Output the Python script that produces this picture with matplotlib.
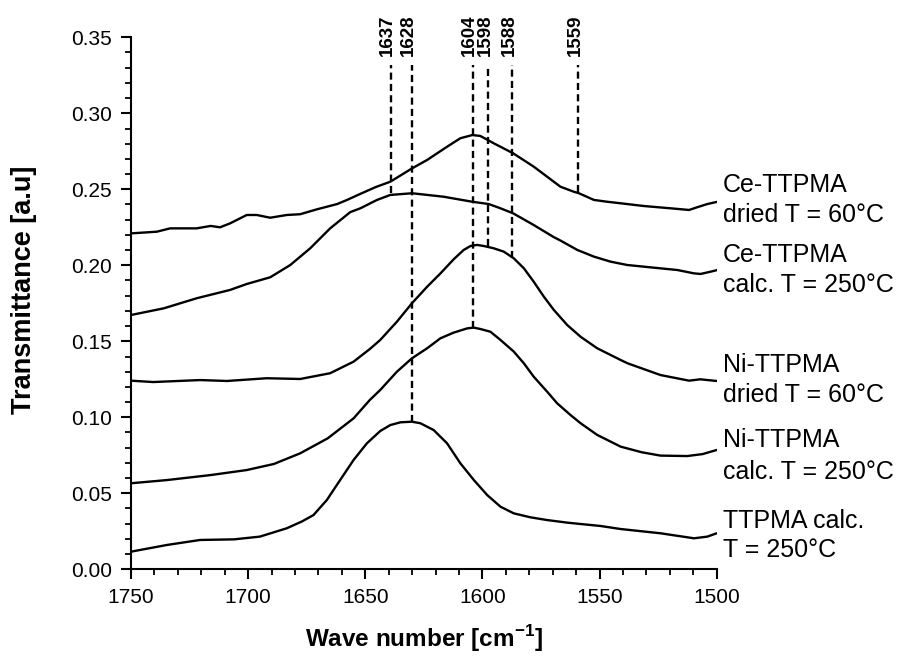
import matplotlib
matplotlib.use("Agg")
import matplotlib.pyplot as plt
from matplotlib.ticker import MultipleLocator, FormatStrFormatter

plt.rcParams['font.family'] = ['Liberation Sans', 'DejaVu Sans']

# ---- data ----
ce_dried_wn = [1750, 1739, 1733.3, 1722, 1716, 1712, 1707.7, 1700.6, 1696.3, 1690.6, 1683.5, 1677.8,
               1670.7, 1662, 1657.8, 1652.1, 1645.5, 1639.3, 1630.0, 1623.6, 1615.1, 1609.4, 1604.3,
               1600.9, 1595.2, 1586.9, 1578.1, 1572.4, 1566.7, 1561.0, 1558.8, 1552.4, 1546.7, 1541.0,
               1531.1, 1519.7, 1511.8, 1508.3, 1504.0, 1499.7]
ce_dried_val = [0.2210, 0.2221, 0.2243, 0.2243, 0.2259, 0.2250, 0.2276, 0.2331, 0.2331, 0.2313, 0.2331, 0.2336,
                0.2368, 0.2403, 0.2430, 0.2470, 0.2515, 0.2550, 0.2638, 0.2693, 0.2780, 0.2836, 0.2857,
                0.2851, 0.2803, 0.2737, 0.2649, 0.2583, 0.2517, 0.2484, 0.2474, 0.2430, 0.2418, 0.2408,
                0.2390, 0.2375, 0.2364, 0.2382, 0.2403, 0.2418]

ce_calc_wn = [1750, 1736, 1722, 1707.7, 1700.6, 1690.6, 1682, 1673.5, 1665, 1656.4, 1652.1, 1645.0,
              1639.3, 1630.0, 1616.5, 1604.3, 1597.3, 1592.3, 1586.9, 1578.1, 1569.5, 1566.7, 1559.5,
              1552.4, 1545.3, 1538.2, 1531.1, 1524.0, 1516.8, 1509.7, 1506.9, 1502.6, 1499.7]
ce_calc_val = [0.1673, 0.1717, 0.1783, 0.1838, 0.1877, 0.1921, 0.2002, 0.2112, 0.2243, 0.2350, 0.2375, 0.2430,
               0.2463, 0.2474, 0.2451, 0.2418, 0.2403, 0.2375, 0.2342, 0.2265, 0.2185, 0.2163, 0.2101,
               0.2057, 0.2024, 0.2002, 0.1991, 0.1980, 0.1969, 0.1947, 0.1943, 0.1958, 0.1969]

ni_dried_wn = [1750, 1740.5, 1720.5, 1709, 1692, 1677.8, 1665, 1655, 1648, 1643.6, 1636.5, 1630.1,
               1623.6, 1617.9, 1612.3, 1608.0, 1605.1, 1602.3, 1599.4, 1595.2, 1590.9, 1586.6, 1582.3,
               1578.1, 1573.8, 1569.5, 1563.8, 1558.1, 1551.0, 1541.0, 1538.0, 1524.0, 1511.8, 1507.0,
               1500]
ni_dried_val = [0.1241, 0.1232, 0.1245, 0.1239, 0.1257, 0.1252, 0.1290, 0.1366, 0.1450, 0.1509, 0.1629, 0.1750,
                0.1859, 0.1947, 0.2039, 0.2101, 0.2127, 0.2134, 0.2127, 0.2112, 0.2090, 0.2046, 0.1980,
                0.1892, 0.1794, 0.1706, 0.1607, 0.1530, 0.1454, 0.1377, 0.1355, 0.1278, 0.1241, 0.1250,
                0.1239]

ni_calc_wn = [1750, 1734.7, 1716, 1700.6, 1689, 1677.8, 1666, 1655, 1648, 1643.6, 1636.5, 1630.1,
              1623.6, 1617.9, 1612.3, 1606.5, 1603.7, 1600.9, 1596.6, 1592.3, 1586.6, 1582.3, 1578.1,
              1572.4, 1568.1, 1562.4, 1558.1, 1551.0, 1541.0, 1532, 1524.0, 1512.6, 1506, 1500]
ni_calc_val = [0.0566, 0.0587, 0.0620, 0.0653, 0.0693, 0.0763, 0.0862, 0.0993, 0.1115, 0.1180, 0.1300, 0.1388,
               0.1454, 0.1520, 0.1557, 0.1585, 0.1590, 0.1581, 0.1563, 0.1509, 0.1432, 0.1355, 0.1267,
               0.1169, 0.1092, 0.1015, 0.0961, 0.0884, 0.0807, 0.0770, 0.0748, 0.0745, 0.0758, 0.0785]

ttpma_wn = [1750, 1734.7, 1720.5, 1706, 1695, 1683.5, 1677, 1672.1, 1666.4, 1660.7, 1655.0, 1649.3,
            1643.6, 1639.3, 1635.0, 1630.1, 1626.5, 1620.8, 1615.1, 1609.4, 1603.7, 1598.0, 1592.3,
            1586.6, 1579.5, 1572.4, 1563.8, 1558.1, 1549.6, 1541.0, 1524.0, 1509.7, 1504, 1500]
ttpma_val = [0.0116, 0.0160, 0.0193, 0.0197, 0.0215, 0.0270, 0.0315, 0.0357, 0.0456, 0.0588, 0.0719, 0.0829,
             0.0910, 0.0949, 0.0967, 0.0971, 0.0961, 0.0916, 0.0829, 0.0697, 0.0588, 0.0489, 0.0412,
             0.0368, 0.0342, 0.0324, 0.0307, 0.0298, 0.0285, 0.0265, 0.0237, 0.0204, 0.0215, 0.0237]

peak_labels = ["1637", "1628", "1604", "1598", "1588", "1559"]
peak_pos = [1639.2, 1630.2, 1604.2, 1597.5, 1587.3, 1559.0]
peak_bottom = [0.2476, 0.0971, 0.1590, 0.2125, 0.2050, 0.2480]

series_labels = [("Ce-TTPMA", "dried T = 60°C"),
                 ("Ce-TTPMA", "calc. T = 250°C"),
                 ("Ni-TTPMA", "dried T = 60°C"),
                 ("Ni-TTPMA", "calc. T = 250°C"),
                 ("TTPMA calc.", "T = 250°C")]

# ---- figure ----
fig = plt.figure(figsize=(9, 6.56), dpi=100)
ax = fig.add_axes([131 / 900, 1 - 569.3 / 656, (716.7 - 131) / 900, (569.3 - 37.3) / 656])

for wn, val in [(ce_dried_wn, ce_dried_val), (ce_calc_wn, ce_calc_val), (ni_dried_wn, ni_dried_val),
                (ni_calc_wn, ni_calc_val), (ttpma_wn, ttpma_val)]:
    ax.plot(wn, val, color='black', lw=1.7, solid_joinstyle='round', solid_capstyle='round')

top_val = 0.332
for lab, x, yb in zip(peak_labels, peak_pos, peak_bottom):
    ax.plot([x, x], [yb, top_val], color='black', lw=1.7, ls=(0, (3.0, 1.8)))
    ax.text(x + 1.3, 0.3375, lab, rotation=90, ha='center', va='bottom',
            fontsize=13.5, fontweight='bold', clip_on=False)

ax.set_xlim(1750, 1500)
ax.set_ylim(0, 0.35)
ax.xaxis.set_major_locator(MultipleLocator(50))
ax.xaxis.set_minor_locator(MultipleLocator(10))
ax.yaxis.set_major_locator(MultipleLocator(0.05))
ax.yaxis.set_minor_locator(MultipleLocator(0.01))
ax.yaxis.set_major_formatter(FormatStrFormatter('%.2f'))
ax.tick_params(which='major', direction='out', length=7.5, width=1.5, labelsize=15, pad=6, color='black')
ax.tick_params(which='minor', direction='out', length=4.5, width=1.3, color='black')
for s in ['top', 'right']:
    ax.spines[s].set_visible(False)
for s in ['left', 'bottom']:
    ax.spines[s].set_linewidth(1.5)

ax.set_xlabel("Wave number [cm$^{\\mathregular{-1}}$]", fontsize=17.5, fontweight='bold')
ax.xaxis.set_label_coords(0.5, -0.102)
ax.set_ylabel("Transmittance [a.u]", fontsize=19.5, fontweight='bold')
ax.yaxis.set_label_coords(-0.161, 0.526)

label_y = [(0.2528, 0.2331), (0.2068, 0.1870), (0.1344, 0.1147), (0.0850, 0.0640), (0.0318, 0.0127)]
for (l1, l2), (y1, y2) in zip(series_labels, label_y):
    ax.text(1497.5, y1, l1, fontsize=18, ha='left', va='center', clip_on=False)
    ax.text(1497.5, y2, l2, fontsize=18, ha='left', va='center', clip_on=False)

fig.savefig("out.png", dpi=100)
